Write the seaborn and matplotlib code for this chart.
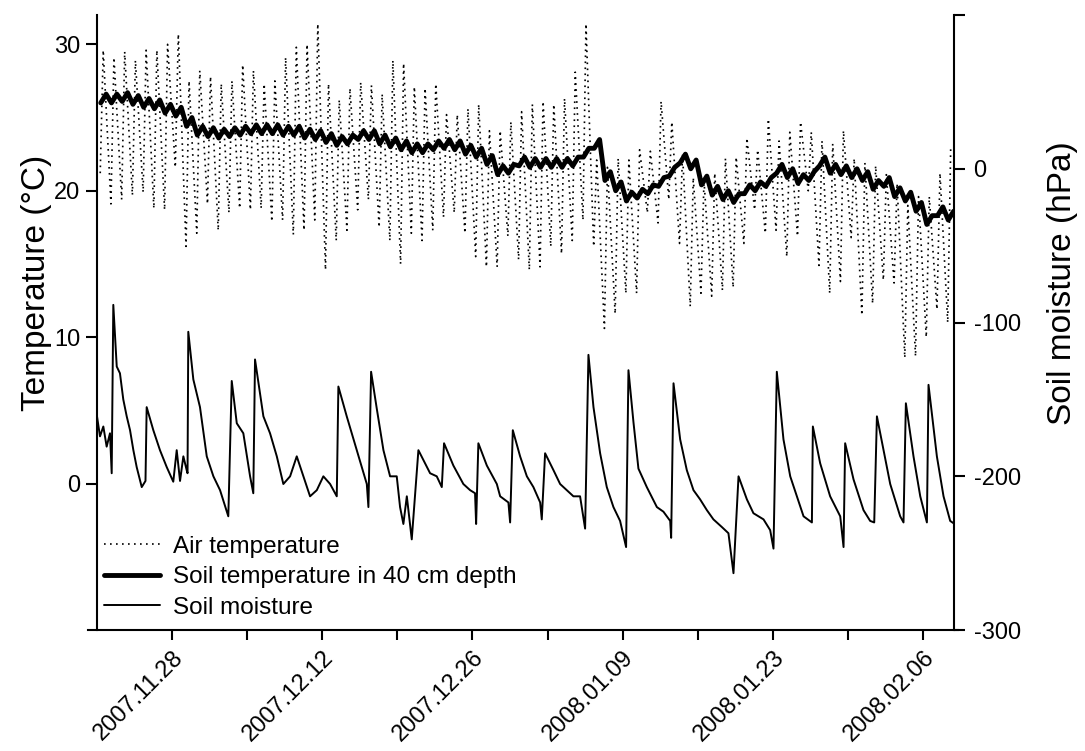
import numpy as np
import pandas as pd
import matplotlib
matplotlib.use("Agg")
import matplotlib.pyplot as plt
import matplotlib.dates as mdates
import matplotlib.transforms as mtransforms
from matplotlib.lines import Line2D
import seaborn as sns

sns.set_theme(style="ticks")
plt.rcParams["font.family"] = ["Liberation Sans", "DejaVu Sans"]
plt.rcParams["text.color"] = "black"
plt.rcParams["axes.labelcolor"] = "black"

# ---------------- data ----------------
start = pd.Timestamp("2007-11-21")

# daily maximum / minimum of air temperature (deg C), 2007-11-21 .. 2008-02-08
air_max = [29.6, 29.1, 29.5, 28.9, 29.6, 29.6, 30.0, 30.7, 27.5, 28.2,
           27.8, 27.3, 27.5, 28.6, 28.2, 27.3, 27.5, 29.1, 29.8, 30.0,
           31.4, 27.3, 26.2, 27.0, 27.4, 27.2, 26.6, 28.9, 28.7, 27.1,
           27.0, 27.3, 25.2, 25.2, 25.6, 25.9, 24.1, 24.1, 24.7, 25.4,
           25.9, 26.1, 25.9, 26.3, 28.1, 31.4, 22.1, 21.6, 22.2, 22.1,
           22.8, 22.7, 26.1, 24.7, 22.5, 20.9, 20.7, 21.2, 22.2, 22.3,
           23.6, 22.8, 24.9, 23.4, 24.0, 24.7, 24.0, 23.4, 23.2, 24.1,
           22.2, 21.9, 21.7, 21.1, 20.5, 19.0, 19.6, 19.6, 21.2, 23.0]
air_min = [21.2, 19.1, 19.4, 19.7, 19.9, 18.8, 18.7, 21.6, 16.2, 17.1,
           19.1, 17.3, 18.5, 18.8, 18.7, 18.8, 17.9, 18.0, 17.0, 17.3,
           18.0, 14.6, 16.6, 17.3, 18.7, 19.4, 17.5, 16.6, 15.0, 17.1,
           16.6, 17.3, 18.2, 18.5, 17.1, 15.5, 14.8, 14.8, 16.9, 15.3,
           14.6, 14.8, 16.2, 15.7, 16.6, 18.0, 16.2, 10.6, 11.6, 13.0,
           13.0, 18.5, 17.8, 19.4, 16.4, 12.1, 13.0, 12.8, 13.2, 13.4,
           16.4, 18.7, 17.1, 17.3, 15.5, 16.9, 20.0, 14.9, 13.0, 13.8,
           16.8, 11.5, 12.3, 13.9, 13.7, 8.6, 8.7, 10.0, 11.9, 11.0]

# soil temperature in 40 cm depth: daily low / high (deg C)
soil_lo = [26.0, 26.0, 26.1, 25.9, 25.7, 25.6, 25.3, 25.1, 24.4, 23.8,
           23.7, 23.6, 23.7, 23.8, 23.9, 23.9, 23.9, 23.8, 23.8, 23.6,
           23.5, 23.3, 23.1, 23.2, 23.5, 23.5, 23.2, 23.0, 22.8, 22.6,
           22.6, 22.8, 22.9, 22.8, 22.5, 22.3, 21.8, 21.1, 21.2, 21.7,
           21.6, 21.6, 21.6, 21.6, 21.7, 22.3, 22.9, 20.7, 20.0, 19.3,
           19.5, 19.8, 20.3, 21.0, 21.9, 21.5, 20.4, 19.7, 19.4, 19.2,
           19.8, 20.0, 20.3, 21.2, 20.9, 20.5, 20.7, 21.7, 21.2, 21.1,
           20.9, 20.7, 20.1, 20.3, 19.6, 19.3, 18.6, 17.7, 18.3, 18.0]
soil_hi = [26.6, 26.6, 26.7, 26.5, 26.3, 26.2, 25.9, 25.7, 25.0, 24.4,
           24.3, 24.2, 24.3, 24.4, 24.5, 24.5, 24.5, 24.4, 24.4, 24.2,
           24.1, 23.9, 23.7, 23.8, 24.1, 24.1, 23.8, 23.6, 23.4, 23.2,
           23.2, 23.4, 23.5, 23.4, 23.1, 22.9, 22.4, 21.7, 21.8, 22.3,
           22.2, 22.2, 22.2, 22.2, 22.3, 22.9, 23.5, 21.3, 20.6, 19.9,
           20.1, 20.4, 20.9, 21.6, 22.5, 22.1, 21.0, 20.3, 20.0, 19.8,
           20.4, 20.6, 20.9, 21.8, 21.5, 21.1, 21.3, 22.3, 21.8, 21.7,
           21.5, 21.3, 20.7, 20.9, 20.2, 19.9, 19.2, 18.3, 18.9, 18.6]

# soil moisture (hPa): time in days since 2007-11-21 and value
moist_day = [0.0, 0.28, 0.59, 0.90, 1.21, 1.37, 1.52, 1.84, 2.14, 2.45,
             2.77, 3.08, 3.39, 3.70, 4.17, 4.52, 4.63, 5.25, 5.87, 6.50,
             7.11, 7.43, 7.74, 8.05, 8.36, 8.44, 8.51, 8.98, 9.60, 10.23,
             10.85, 11.47, 12.24, 12.56, 13.03, 13.64, 14.27, 14.57, 14.73, 15.51,
             16.13, 16.76, 17.37, 18.0, 18.62, 19.24, 19.86, 20.49, 21.10, 21.73,
             22.35, 22.50, 23.28, 24.21, 25.15, 25.30, 25.55, 26.08, 26.70, 27.32,
             27.94, 28.25, 28.56, 28.88, 29.34, 29.96, 31.05, 31.67, 32.14, 32.35,
             33.22, 34.15, 34.78, 35.24, 35.34, 35.55, 36.34, 37.27, 37.58, 38.35,
             38.51, 38.76, 39.44, 40.07, 40.68, 41.31, 41.46, 41.77, 42.55, 43.17,
             43.79, 44.41, 45.03, 45.50, 45.81, 46.28, 46.90, 47.52, 48.14, 48.76,
             49.32, 49.54, 50.01, 50.47, 51.25, 52.19, 52.80, 53.43, 53.52, 53.74,
             54.36, 54.98, 55.60, 56.22, 56.85, 57.46, 58.25, 58.86, 59.33, 59.80,
             60.58, 61.19, 62.13, 62.75, 63.06, 63.37, 63.99, 64.62, 65.24, 65.86,
             66.64, 66.73, 67.41, 68.34, 69.28, 69.59, 69.74, 70.52, 71.45, 72.07,
             72.45, 72.70, 73.32, 73.94, 74.87, 75.18, 75.40, 76.11, 76.74, 77.36,
             77.51, 78.29, 78.91, 79.53, 79.84]
moist_hpa = [-161, -174, -167.6, -180.7, -172, -198, -88.5, -128.6, -133, -150,
             -161, -170, -183, -194, -207, -203, -155, -170, -183, -194,
             -203.5, -183, -203, -187, -196, -198, -106, -137, -155, -187,
             -200, -209, -226, -138, -165.5, -172, -200, -211, -124, -161,
             -172, -187, -205, -200, -187, -200, -213, -209, -200, -205,
             -213, -141.6, -161, -183, -205, -220, -132, -156, -183, -200,
             -200, -220, -231, -213, -241, -183, -198, -200, -207, -178.5,
             -193, -205, -209, -211, -231, -178.5, -193, -205, -213, -217,
             -230, -170, -187, -200, -207, -217, -228, -185, -196, -205,
             -209, -213, -213, -234, -121, -155, -185, -207, -220, -229,
             -246, -131, -165, -195, -207, -220, -223, -229, -240, -139.5,
             -176, -196, -209, -215, -222, -228, -233, -237, -263, -200,
             -215, -224, -228, -235, -247, -132, -176, -200, -213, -226,
             -230, -167.6, -191.5, -213, -226, -246, -178.5, -202, -222, -229,
             -230, -161, -183, -205, -226, -230, -152.5, -187, -213, -230,
             -140.5, -187, -213, -229, -230.5]

labels = ["Air temperature", "Soil temperature in 40 cm depth", "Soil moisture"]

# ---------------- build tidy frames ----------------
air_t, air_v = [], []
for d in range(len(air_max)):
    air_t += [d + 0.30, d + 0.58]
    air_v += [air_min[d], air_max[d]]
df_air = pd.DataFrame({"time": start + pd.to_timedelta(air_t, unit="D"), "temp": air_v})

soil_t, soil_v = [], []
for d in range(len(soil_lo)):
    soil_t += [d + 0.35, d + 0.85]
    soil_v += [soil_lo[d], soil_hi[d]]
df_soil = pd.DataFrame({"time": start + pd.to_timedelta(soil_t, unit="D"), "temp": soil_v})

df_moist = pd.DataFrame({"time": start + pd.to_timedelta(moist_day, unit="D"), "hpa": moist_hpa})

# ---------------- figure ----------------
fig = plt.figure(figsize=(10.85, 7.51), dpi=100)
ax = fig.add_axes([0.0894, 0.161, 0.790, 0.819])
ax2 = ax.twinx()

air_style = dict(color="black", linewidth=1.2, linestyle=(0, (1, 2.6)))
soil_style = dict(color="black", linewidth=3.5, linestyle="-")
moist_style = dict(color="black", linewidth=1.4, linestyle="-")

sns.lineplot(data=df_air, x="time", y="temp", ax=ax, estimator=None, sort=False, **air_style)
sns.lineplot(data=df_soil, x="time", y="temp", ax=ax, estimator=None, sort=False, **soil_style)
sns.lineplot(data=df_moist, x="time", y="hpa", ax=ax2, estimator=None, sort=False, **moist_style)

x_end = start + pd.Timedelta(days=79.9)
ax.set_xlim(start, x_end)
ax.set_ylim(-10, 32)
ax2.set_ylim(-300, 100)

ax.set_yticks([0, 10, 20, 30])
ax.set_yticklabels(["0", "10", "20", "30"])
ax2.set_yticks([-300, -200, -100, 0, 100])
ax2.set_yticklabels(["-300", "-200", "-100", "0", ""])

major = [pd.Timestamp("2007-11-28") + pd.Timedelta(days=14 * k) for k in range(6)]
minor = [pd.Timestamp("2007-12-05") + pd.Timedelta(days=14 * k) for k in range(5)]
ax.set_xticks(major)
ax.set_xticks(minor, minor=True)
ax.xaxis.set_major_formatter(mdates.DateFormatter("%Y.%m.%d"))
shift = mtransforms.ScaledTranslation(7 / 100, 0, fig.dpi_scale_trans)
for lab in ax.get_xticklabels():
    lab.set_rotation(45)
    lab.set_ha("right")
    lab.set_va("top")
    lab.set_rotation_mode("anchor")
    lab.set_transform(lab.get_transform() + shift)

tick_fs = 17
ax.tick_params(axis="y", which="both", direction="out", length=8, width=1.5,
               labelsize=tick_fs, pad=4, left=True, colors="black")
ax.tick_params(axis="x", which="both", direction="out", length=7, width=1.5,
               labelsize=tick_fs, pad=5, bottom=True, colors="black")
ax2.tick_params(axis="y", direction="out", length=8, width=1.5, labelsize=tick_fs,
                pad=6, right=True, colors="black")

for s in ["top", "right"]:
    ax.spines[s].set_visible(False)
for s in ["top", "left", "bottom"]:
    ax2.spines[s].set_visible(False)
ax.spines["left"].set_linewidth(1.5)
ax.spines["bottom"].set_linewidth(1.5)
ax2.spines["right"].set_linewidth(1.5)
for a in (ax, ax2):
    for sp in a.spines.values():
        sp.set_color("black")
# bottom axis line runs a little past both vertical axes, as in the reference
ax.spines["bottom"].set_bounds(mdates.date2num(start - pd.Timedelta(days=0.8)),
                               mdates.date2num(x_end + pd.Timedelta(days=0.4)))

ax.set_xlabel("")
ax.set_ylabel("Temperature (°C)", fontsize=24, color="black")
ax.yaxis.set_label_coords(-0.052, 0.564)
ax2.set_ylabel("Soil moisture (hPa)", fontsize=24, color="black", rotation=90)
ax2.yaxis.set_label_coords(1.108, 0.564)

handles = [Line2D([], [], **air_style), Line2D([], [], **soil_style), Line2D([], [], **moist_style)]
leg = ax2.legend(handles=handles, labels=labels, loc="upper left", bbox_to_anchor=(0.008, 0.153),
                 frameon=False, fontsize=17.5, handlelength=2.3, handletextpad=0.55,
                 labelspacing=0.34, borderpad=0, borderaxespad=0)
for t in leg.get_texts():
    t.set_color("black")

ax.grid(False)
ax2.grid(False)
fig.savefig("out.png", dpi=100)
